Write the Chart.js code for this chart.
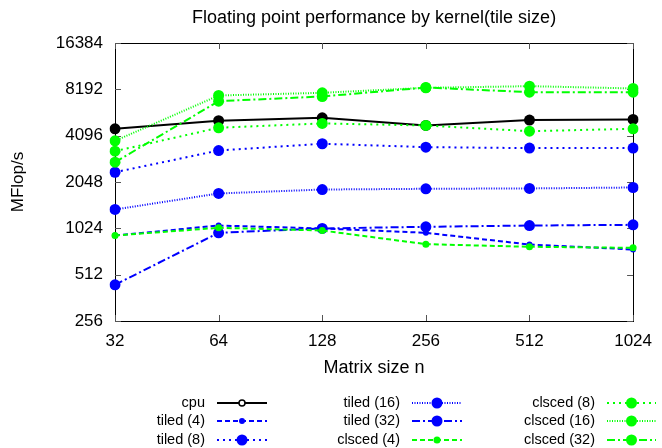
<!DOCTYPE html>
<html>
<head>
<meta charset="utf-8">
<script src="https://cdn.jsdelivr.net/npm/chart.js@4.4.0/dist/chart.umd.min.js"></script>
<style>
  body { margin: 0; background: #fff; }
</style>
</head>
<body>
<canvas id="perfchart" width="662" height="448"></canvas>
<script>
// matrix sizes (x axis) and MFlop/s per kernel
var sizes = ["32", "64", "128", "256", "512", "1024"];
var y_ticks = [256, 512, 1024, 2048, 4096, 8192, 16384];

var cpu = [4540, 5120, 5350, 4770, 5170, 5220];
var tiled_4 = [920, 1068, 1022, 958, 804, 746];
var tiled_8 = [2370, 3280, 3630, 3450, 3400, 3400];
var tiled_16 = [1358, 1725, 1830, 1850, 1860, 1886];
var tiled_32 = [440, 958, 1022, 1048, 1068, 1079];
var clsced_4 = [920, 1032, 991, 808, 777, 765];
var clsced_8 = [3250, 4610, 4920, 4770, 4380, 4540];
var clsced_16 = [3790, 7470, 7780, 8380, 8590, 8300];
var clsced_32 = [2755, 6860, 7360, 8420, 7850, 7850];

var FONT = "'Liberation Sans', Arial, sans-serif";

function series(label, data, color, dash, radius, idx) {
  return {
    label: label,
    data: data,
    borderColor: color,
    backgroundColor: color,
    pointBackgroundColor: color,
    pointBorderColor: color,
    borderWidth: 2,
    borderDash: dash,
    pointRadius: radius,
    pointBorderWidth: 0,
    tension: 0,
    fill: false,
    order: 9 - idx  // gnuplot draws later curves on top
  };
}

var datasets = [
  series("cpu", cpu, "#000000", [], 5.5, 0),
  series("tiled (4)", tiled_4, "#0000ff", [5, 3], 3, 1),
  series("tiled (8)", tiled_8, "#0000ff", [2, 4], 5.5, 2),
  series("tiled (16)", tiled_16, "#0000ff", [1, 1.5], 5.5, 3),
  series("tiled (32)", tiled_32, "#0000ff", [8, 3, 2, 3], 5.5, 4),
  series("clsced (4)", clsced_4, "#00ff00", [5, 3], 3.5, 5),
  series("clsced (8)", clsced_8, "#00ff00", [2, 4], 5.5, 6),
  series("clsced (16)", clsced_16, "#00ff00", [1, 1.5], 5.5, 7),
  series("clsced (32)", clsced_32, "#00ff00", [8, 3, 2, 3], 5.5, 8)
];

/**
 * gnuplot style frame: border box with inward ticks
 */
var gnuFrame = {
  id: "gnuFrame",
  beforeDatasetsDraw: function (chart) {
    var ctx = chart.ctx;
    var a = chart.chartArea;
    var xs = chart.scales.x;
    var ys = chart.scales.y;
    ctx.save();
    ctx.strokeStyle = "#000";
    ctx.lineWidth = 1;
    ctx.strokeRect(Math.round(a.left) + 0.5, Math.round(a.top) + 0.5,
      Math.round(a.right - a.left), Math.round(a.bottom - a.top));
    ctx.strokeStyle = "#555";
    ctx.beginPath();
    for (var i = 0; i < sizes.length; i++) {
      var px = Math.round(xs.getPixelForValue(i)) + 0.5;
      ctx.moveTo(px, a.bottom); ctx.lineTo(px, a.bottom - 6);
      ctx.moveTo(px, a.top); ctx.lineTo(px, a.top + 6);
    }
    for (var j = 0; j < y_ticks.length; j++) {
      var py = Math.round(ys.getPixelForValue(y_ticks[j])) + 0.5;
      ctx.moveTo(a.left, py); ctx.lineTo(a.left + 6, py);
      ctx.moveTo(a.right, py); ctx.lineTo(a.right - 6, py);
    }
    ctx.stroke();
    ctx.restore();
  },
  afterDraw: function (chart) {
    var ctx = chart.ctx;
    var a = chart.chartArea;
    ctx.save();
    ctx.fillStyle = "#000";
    ctx.textBaseline = "middle";

    // title and axis titles
    ctx.font = "18px " + FONT;
    ctx.textAlign = "center";
    ctx.fillText("Floating point performance by kernel(tile size)", (a.left + a.right) / 2, 18);
    ctx.fillText("Matrix size n", (a.left + a.right) / 2, 368);
    ctx.save();
    ctx.font = "17px " + FONT;
    ctx.translate(18, (a.top + a.bottom) / 2);
    ctx.rotate(-Math.PI / 2);
    ctx.fillText("MFlop/s", 0, 0);
    ctx.restore();

    // legend, three columns like gnuplot key
    var text_right = [205, 400, 595];
    var line_x1 = [217, 412, 607];
    var line_x2 = [267, 462, 656];
    var rows = [403, 421, 440];
    ctx.font = "14.5px " + FONT;
    ctx.textAlign = "right";
    for (var k = 0; k < chart.data.datasets.length; k++) {
      var ds = chart.data.datasets[k];
      var col = Math.floor(k / 3);
      var y = rows[k % 3];
      ctx.fillStyle = "#000";
      ctx.fillText(ds.label, text_right[col], y);
      ctx.strokeStyle = ds.borderColor;
      ctx.lineWidth = ds.borderWidth;
      ctx.setLineDash(ds.borderDash);
      ctx.beginPath();
      ctx.moveTo(line_x1[col], y);
      ctx.lineTo(line_x2[col], y);
      ctx.stroke();
      ctx.setLineDash([]);
      var cx = (line_x1[col] + line_x2[col]) / 2;
      ctx.beginPath();
      if (k == 0) {
        ctx.arc(cx, y, 3, 0, Math.PI * 2);
        ctx.fillStyle = "#fff";
        ctx.fill();
        ctx.lineWidth = 1.5;
        ctx.stroke();
      } else {
        ctx.arc(cx, y, ds.pointRadius, 0, Math.PI * 2);
        ctx.fillStyle = ds.pointBackgroundColor;
        ctx.fill();
      }
    }
    ctx.restore();
  }
};

var chart1 = document.getElementById("perfchart");
var myChart = new Chart(chart1, {
  type: "line",
  data: {
    labels: sizes,
    datasets: datasets
  },
  options: {
    responsive: false,
    animation: false,
    layout: {
      padding: { left: 0, right: 26, top: 43, bottom: 0 }
    },
    plugins: {
      legend: { display: false },
      title: { display: false },
      tooltip: { enabled: false }
    },
    scales: {
      x: {
        type: "category",
        offset: false,
        grid: { display: false, drawTicks: false },
        border: { display: false },
        ticks: {
          color: "#000",
          font: { family: FONT, size: 17 },
          padding: 10,
          maxRotation: 0,
          autoSkip: false
        },
        afterFit: function (scale) {
          scale.height = 448 - 321;
        }
      },
      y: {
        type: "logarithmic",
        min: 256,
        max: 16384,
        grid: { display: false, drawTicks: false },
        border: { display: false },
        ticks: {
          color: "#000",
          font: { family: FONT, size: 17 },
          padding: 12,
          callback: function (value) {
            return String(value);
          }
        },
        afterBuildTicks: function (scale) {
          scale.ticks = y_ticks.map(function (v) { return { value: v }; });
        },
        afterFit: function (scale) {
          scale.width = 115;
        }
      }
    }
  },
  plugins: [gnuFrame]
});
</script>
</body>
</html>
